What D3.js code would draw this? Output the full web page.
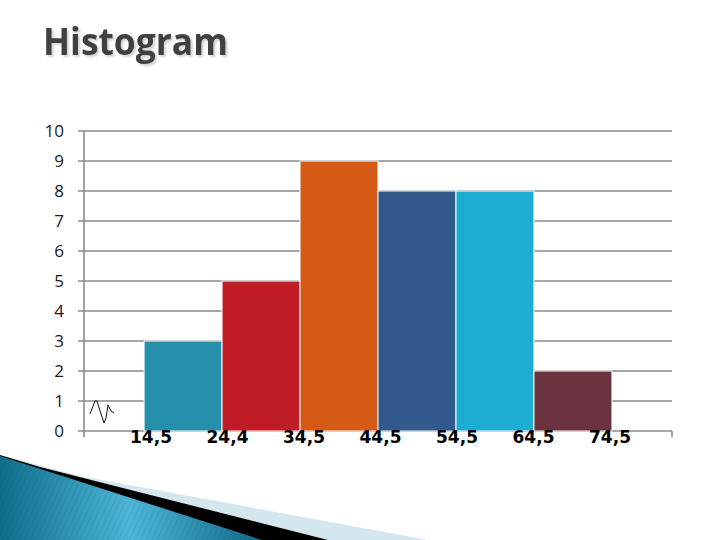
<!DOCTYPE html>
<html>
<head>
<meta charset="utf-8">
<script src="https://cdn.jsdelivr.net/npm/d3@7"></script>
<style>
  html, body { margin: 0; padding: 0; background: #fff; }
  svg { display: block; }
</style>
</head>
<body>
<svg id="chart" width="720" height="540"></svg>
<script>
// ---- data ----
const title = "Histogram";
const binStarts = [14.5, 24.5, 34.5, 44.5, 54.5, 64.5];
const binWidth = 10;
const frequencies = [3, 5, 9, 8, 8, 2];
const barColors = ["#268fac", "#c11d27", "#d45a16", "#31598b", "#1eadd0", "#6a333f"];
const xTickLabels = ["14,5", "24,4", "34,5", "44,5", "54,5", "64,5", "74,5"];
const yTicks = [0, 1, 2, 3, 4, 5, 6, 7, 8, 9, 10];

const svg = d3.select("#chart");

// ---- defs ----
const defs = svg.append("defs");
const shadow = defs.append("filter").attr("id", "shadow")
  .attr("x", "-5%").attr("y", "-5%").attr("width", "115%").attr("height", "130%");
shadow.append("feDropShadow").attr("dx", 2).attr("dy", 2).attr("stdDeviation", 0.8)
  .attr("flood-color", "#000").attr("flood-opacity", 0.18);

const grad = defs.append("linearGradient").attr("id", "teal")
  .attr("x1", "0%").attr("y1", "0%").attr("x2", "100%").attr("y2", "0%");
grad.append("stop").attr("offset", "0%").attr("stop-color", "#0f6e8a");
grad.append("stop").attr("offset", "50%").attr("stop-color", "#4fb6d8");
grad.append("stop").attr("offset", "100%").attr("stop-color", "#0d6a86");
const pat = defs.append("pattern").attr("id", "stripes").attr("width", 5).attr("height", 5)
  .attr("patternUnits", "userSpaceOnUse").attr("patternTransform", "rotate(25)");
pat.append("line").attr("x1", 0).attr("y1", 0).attr("x2", 0).attr("y2", 5)
  .attr("stroke", "#003040").attr("stroke-opacity", 0.18).attr("stroke-width", 1);

// ---- decoration bottom-left ----
const deco = svg.append("g");
const line = d3.line();
deco.append("path").attr("d", line([[0, 455], [80, 476], [428, 540], [0, 540]]) + "Z").attr("fill", "#d5e7ee");
deco.append("path").attr("d", line([[0, 455], [40, 467], [328, 540], [0, 540]]) + "Z").attr("fill", "#000");
deco.append("path").attr("d", line([[0, 456], [262, 540], [0, 540]]) + "Z").attr("fill", "url(#teal)");
deco.append("path").attr("d", line([[0, 456], [262, 540], [0, 540]]) + "Z").attr("fill", "url(#stripes)");

// ---- title ----
svg.append("text").attr("x", 43).attr("y", 55)
  .attr("font-family", "'Open Sans', sans-serif").attr("font-weight", "bold")
  .attr("font-size", 37).attr("fill", "#404040")
  .attr("textLength", 185).attr("lengthAdjust", "spacingAndGlyphs")
  .attr("filter", "url(#shadow)")
  .text(title);

// ---- scales ----
const x = d3.scaleLinear().domain([6.8, 82.2]).range([84, 672]);
const y = d3.scaleLinear().domain([0, 10]).range([431, 131]);
const xLab = d3.scalePoint().domain(xTickLabels).range([151, 610]);

// ---- grid + y axis ----
const gridColor = "#8a8a8a";
svg.append("g").selectAll("line").data(yTicks).join("line")
  .attr("x1", 78).attr("x2", x.range()[1])
  .attr("y1", d => y(d)).attr("y2", d => y(d))
  .attr("stroke", gridColor).attr("stroke-width", 1.6);
svg.append("line").attr("x1", 84).attr("x2", 84).attr("y1", y(10)).attr("y2", y(0) + 6)
  .attr("stroke", gridColor).attr("stroke-width", 1.6);
svg.append("line").attr("x1", x.range()[1]).attr("x2", x.range()[1]).attr("y1", y(0)).attr("y2", y(0) + 6)
  .attr("stroke", gridColor).attr("stroke-width", 1.6);

svg.append("g").selectAll("text").data(yTicks).join("text")
  .attr("x", 64).attr("y", d => y(d) + 5.5)
  .attr("text-anchor", "end")
  .attr("font-family", "'Open Sans', sans-serif").attr("font-size", 17).attr("fill", "#1a1a1a")
  .text(d => d);

// ---- bars ----
svg.append("g").selectAll("rect").data(frequencies).join("rect")
  .attr("x", (d, i) => x(binStarts[i]))
  .attr("width", (d, i) => x(binStarts[i] + binWidth) - x(binStarts[i]))
  .attr("y", d => y(d))
  .attr("height", d => y(0) - y(d))
  .attr("fill", (d, i) => barColors[i])
  .attr("stroke", "#ffffff").attr("stroke-width", 1);

// ---- axis break squiggle ----
svg.append("path")
  .attr("d", d3.line()([[90, 414], [95, 401], [97, 401], [101, 414], [104, 423], [106, 418], [108, 405], [111, 411], [114, 413]]))
  .attr("fill", "none").attr("stroke", "#111").attr("stroke-width", 1);

// ---- x labels ----
svg.append("g").selectAll("text").data(xTickLabels).join("text")
  .attr("x", d => xLab(d)).attr("y", 443)
  .attr("text-anchor", "middle")
  .attr("font-family", "'DejaVu Sans', sans-serif").attr("font-weight", "bold")
  .attr("font-size", 17).attr("fill", "#000")
  .text(d => d);
</script>
</body>
</html>
